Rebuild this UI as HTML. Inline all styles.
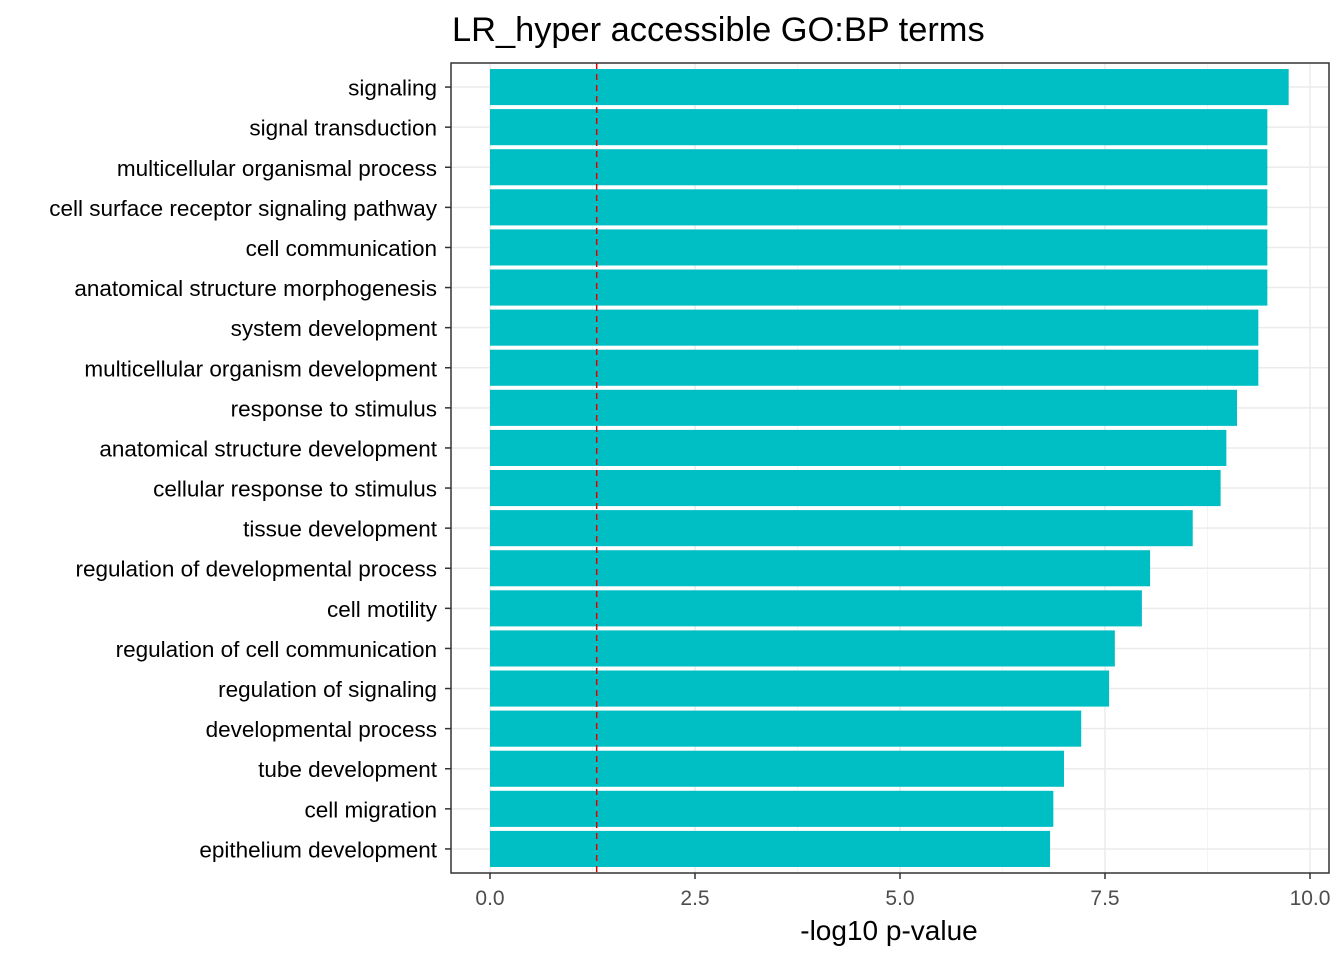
<!DOCTYPE html>
<html><head><meta charset="utf-8"><style>
body{margin:0;background:#fff;}
svg text{font-family:"Liberation Sans",Arial,sans-serif;}
</style></head><body>
<svg id="chart" width="1344" height="960" xmlns="http://www.w3.org/2000/svg">
<text x="452" y="41" font-size="34.4" fill="#000">LR_hyper accessible GO:BP terms</text>
<g id="grid"></g><g id="bars"></g><g id="axes"></g>
<text x="889" y="940" font-size="28" text-anchor="middle" fill="#000">-log10 p-value</text>
</svg>
<script>
const categories=["signaling","signal transduction","multicellular organismal process","cell surface receptor signaling pathway","cell communication","anatomical structure morphogenesis","system development","multicellular organism development","response to stimulus","anatomical structure development","cellular response to stimulus","tissue development","regulation of developmental process","cell motility","regulation of cell communication","regulation of signaling","developmental process","tube development","cell migration","epithelium development"];
const values=[9.74,9.48,9.48,9.48,9.48,9.48,9.37,9.37,9.11,8.98,8.91,8.57,8.05,7.95,7.62,7.55,7.21,7.0,6.87,6.83];
const xTicks=[0,2.5,5,7.5,10];
const xTickLabels=["0.0","2.5","5.0","7.5","10.0"];
const threshold=1.301;
const L=451,R=1329,T=63,B=873,ns="http://www.w3.org/2000/svg";
const x=v=>490+v*82;
const step=(B-T)/(categories.length+0.2);
const y=i=>T+(i+0.6)*step;
function mk(tag,at,parent){const e=document.createElementNS(ns,tag);for(const k in at)e.setAttribute(k,at[k]);document.getElementById(parent).appendChild(e);return e;}
for(let i=0;i<xTicks.length-1;i++){const m=mk('line',{x1:x((xTicks[i]+xTicks[i+1])/2),x2:x((xTicks[i]+xTicks[i+1])/2),y1:T,y2:B,stroke:'#f4f4f4','stroke-width':1},'grid');

}
xTicks.forEach((t,i)=>{const g=mk('line',{x1:x(t),x2:x(t),y1:T,y2:B,stroke:'#ebebeb','stroke-width':1.5},'grid');


const tk=mk('line',{x1:x(t),x2:x(t),y1:B,y2:B+6,stroke:'#333','stroke-width':1.5},'axes');


const tl=mk('text',{x:x(t),y:B+32,'font-size':21,fill:'#4d4d4d','text-anchor':'middle'},'axes');tl.textContent=xTickLabels[i];

});
categories.forEach((c,i)=>{const g=mk('line',{x1:L,x2:R,y1:y(i),y2:y(i),stroke:'#ebebeb','stroke-width':1.5},'grid');


const b=mk('rect',{x:x(0),y:y(i)-step*0.45,width:x(values[i])-x(0),height:step*0.9,fill:'#00bfc4'},'bars');


const tk=mk('line',{x1:L-6,x2:L,y1:y(i),y2:y(i),stroke:'#333','stroke-width':1.5},'axes');


const tl=mk('text',{x:L-14,y:y(i)+8.5,'font-size':22.5,fill:'#000','text-anchor':'end'},'axes');tl.textContent=c;

});
const th=mk('line',{x1:x(threshold),x2:x(threshold),y1:T,y2:B,stroke:'#e00000','stroke-width':1.5,'stroke-dasharray':'6,5'},'bars');


const fr=mk('rect',{x:L,y:T,width:R-L,height:B-T,fill:'none',stroke:'#333','stroke-width':1.5},'axes');


</script>
</body></html>
